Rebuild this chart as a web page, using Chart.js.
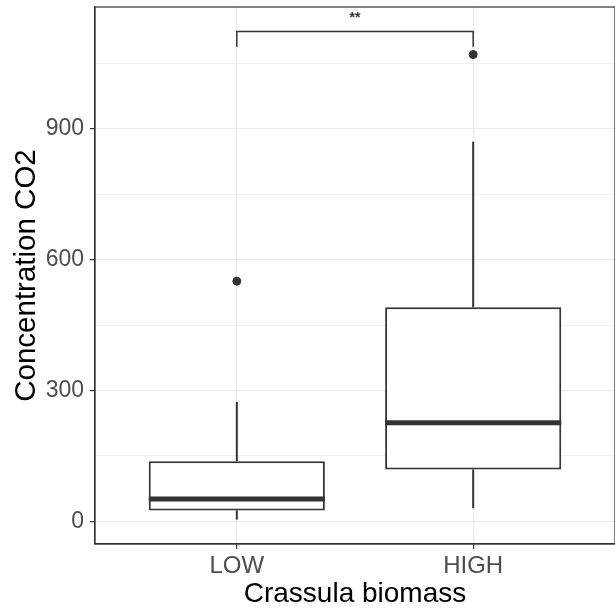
<!DOCTYPE html>
<html><head><meta charset="utf-8">
<script src="https://cdn.jsdelivr.net/npm/chart.js@4/dist/chart.umd.min.js"></script>
<style>html,body{margin:0;padding:0;background:#fff;overflow:hidden}canvas{display:block}</style>
</head><body>
<canvas id="c" width="620" height="613"></canvas>
<script>
// ---- data ----
const categories = ['LOW', 'HIGH'];
const whiskerLow = [4, 30];
const q1 = [25, 119];
const median = [51, 226];
const q3 = [138, 491];
const whiskerHigh = [274, 871];
const outliers = [[551], [1071]];
const yTicks = [0, 300, 600, 900];
const yMinorTicks = [150, 450, 750, 1050];
const bracketTop = 1124;
const bracketTip = 1089;
const signifText = '**';

// ---- styling ----
const BOX_WIDTH = 0.745;
const INK = '#333333';
const GRID = '#EBEBEB';
const FONT = "'Liberation Sans', Arial, sans-serif";

const allVals = [...whiskerLow, ...whiskerHigh, ...outliers.flat(), bracketTop];
const lo = Math.min(...allVals), hi = Math.max(...allVals);
const pad = (hi - lo) * 0.05;

const datasets = [];
datasets.push({
  type: 'bar',
  data: categories.map((c, i) => ({x: i, y: [q1[i], q3[i]]})),
  backgroundColor: '#ffffff', borderColor: INK, borderWidth: 2, borderSkipped: false,
  barPercentage: BOX_WIDTH, categoryPercentage: 1, order: 5
});
categories.forEach((c, i) => {
  datasets.push({type: 'line', data: [{x: i, y: q3[i]}, {x: i, y: whiskerHigh[i]}],
    borderColor: INK, borderWidth: 2, pointRadius: 0, order: 6});
  datasets.push({type: 'line', data: [{x: i, y: whiskerLow[i]}, {x: i, y: q1[i]}],
    borderColor: INK, borderWidth: 2, pointRadius: 0, order: 6});
  datasets.push({type: 'line', data: [{x: i - BOX_WIDTH / 2, y: median[i]}, {x: i + BOX_WIDTH / 2, y: median[i]}],
    borderColor: INK, borderWidth: 5, pointRadius: 0, borderCapStyle: 'butt', order: 1});
});
datasets.push({type: 'scatter',
  data: outliers.flatMap((arr, i) => arr.map(v => ({x: i, y: v}))),
  backgroundColor: INK, borderColor: INK, pointRadius: 4, order: 0});
datasets.push({type: 'line',
  data: [{x: 0, y: bracketTip}, {x: 0, y: bracketTop}, {x: 1, y: bracketTop}, {x: 1, y: bracketTip}],
  borderColor: INK, borderWidth: 1.5, pointRadius: 0, order: 0});

const framePlugin = {
  id: 'frame',
  afterDraw(chart) {
    const {ctx, chartArea: a, scales: {x, y}} = chart;
    ctx.save();
    ctx.strokeStyle = INK; ctx.lineWidth = 1.2;
    ctx.strokeRect(a.left, a.top, a.right - a.left, a.bottom - a.top);
    ctx.fillStyle = INK;
    ctx.font = 'bold 14px ' + FONT;
    ctx.textAlign = 'center'; ctx.textBaseline = 'middle';
    ctx.fillText(signifText, (x.getPixelForValue(0) + x.getPixelForValue(1)) / 2, y.getPixelForValue(bracketTop) - 13);
    ctx.restore();
  }
};

new Chart(document.getElementById('c'), {
  type: 'bar',
  data: {datasets},
  options: {
    responsive: false, animation: false,
    layout: {padding: {top: 7, right: 2.5, left: 0, bottom: 0}},
    plugins: {legend: {display: false}, tooltip: {enabled: false}},
    scales: {
      x: {
        type: 'linear', min: -0.6, max: 1.6, offset: false,
        afterBuildTicks: s => { s.ticks = categories.map((c, i) => ({value: i})); },
        afterFit: s => { s.height = 69; s.paddingLeft = 0; s.paddingRight = 0; },
        ticks: {callback: v => categories[v], font: {family: FONT, size: 24}, color: '#4D4D4D',
          padding: 3, autoSkip: false, maxRotation: 0},
        grid: {color: GRID, lineWidth: 1.2, tickColor: INK, tickLength: 5, offset: false},
        border: {color: INK, width: 1.2},
        title: {display: true, text: 'Crassula biomass', font: {family: FONT, size: 28}, color: '#000000', padding: {top: 0, bottom: 2}}
      },
      y: {
        type: 'linear', min: lo - pad, max: hi + pad,
        afterBuildTicks: s => { s.ticks = [...yTicks, ...yMinorTicks].sort((a, b) => a - b).map(v => ({value: v})); },
        afterFit: s => { s.width = 95; s.paddingTop = 0; s.paddingBottom = 0; },
        ticks: {callback: v => yTicks.includes(v) ? String(v) : '', font: {family: FONT, size: 23}, color: '#4D4D4D', padding: 6, autoSkip: false},
        grid: {color: GRID,
          lineWidth: ctx => yTicks.includes(ctx.tick && ctx.tick.value) ? 1.2 : 0.7,
          tickColor: ctx => yTicks.includes(ctx.tick && ctx.tick.value) ? INK : 'rgba(0,0,0,0)',
          tickLength: 5},
        border: {color: INK, width: 1.2},
        title: {display: true, text: 'Concentration CO2', font: {family: FONT, size: 29.5}, color: '#000000', padding: {top: 9, bottom: 0}}
      }
    }
  },
  plugins: [framePlugin]
});
</script>
</body></html>
